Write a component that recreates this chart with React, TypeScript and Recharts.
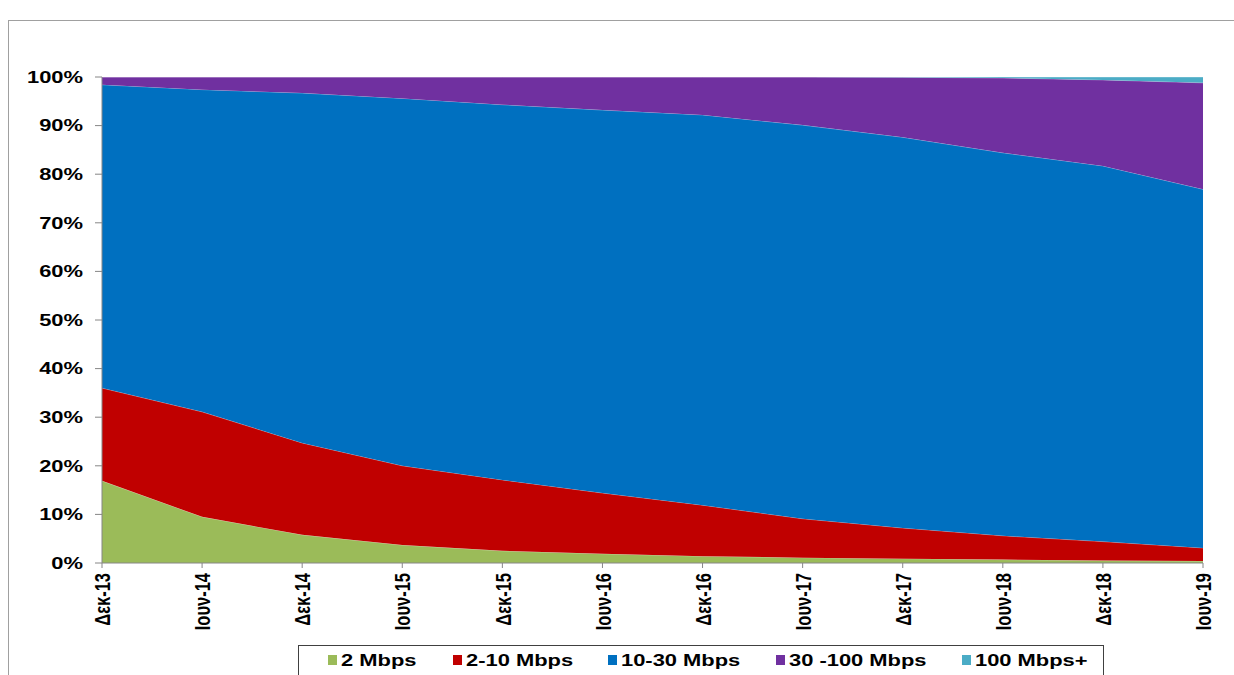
import React from 'react';
import { AreaChart, Area, XAxis, YAxis } from 'recharts';

const months = ['Δεκ-13', 'Ιουν-14', 'Δεκ-14', 'Ιουν-15', 'Δεκ-15', 'Ιουν-16', 'Δεκ-16', 'Ιουν-17', 'Δεκ-17', 'Ιουν-18', 'Δεκ-18', 'Ιουν-19'];
const upTo2 = [16.9, 9.5, 5.8, 3.7, 2.5, 1.9, 1.4, 1.1, 0.9, 0.7, 0.5, 0.4];
const from2to10 = [19.1, 21.6, 18.9, 16.3, 14.6, 12.5, 10.5, 8.0, 6.3, 4.9, 3.9, 2.7];
const from10to30 = [62.4, 66.3, 72.0, 75.6, 77.2, 78.8, 80.3, 81.0, 80.4, 78.8, 77.3, 73.8];
const from30to100 = [1.6, 2.6, 3.3, 4.4, 5.7, 6.8, 7.8, 9.9, 12.35, 15.4, 17.7, 21.9];
const over100 = [0, 0, 0, 0, 0, 0, 0, 0, 0.05, 0.2, 0.6, 1.2];
const yTicks = [0, 10, 20, 30, 40, 50, 60, 70, 80, 90, 100];

const series = [
  { key: 's1', name: '2 Mbps', color: '#9BBB59', values: upTo2 },
  { key: 's2', name: '2-10 Mbps', color: '#C00000', values: from2to10 },
  { key: 's3', name: '10-30 Mbps', color: '#0070C0', values: from10to30 },
  { key: 's4', name: '30 -100 Mbps', color: '#7030A0', values: from30to100 },
  { key: 's5', name: '100 Mbps+', color: '#4BACC6', values: over100 },
];

const data = months.map((m, i) => {
  const row: any = { m };
  series.forEach((s) => { row[s.key] = s.values[i]; });
  return row;
});

const FONT = '"Liberation Sans", Arial, sans-serif';
const STRETCH = 1.37;

const YTick = ({ x, y, payload }: any) => (
  <text
    transform={`translate(${x},${y}) scale(${STRETCH},1)`}
    textAnchor="end"
    dy="0.36em"
    fontFamily={FONT}
    fontWeight="bold"
    fontSize={16}
    fill="#000"
  >
    {`${payload.value}%`}
  </text>
);

const XTick = ({ x, y, payload }: any) => (
  <g transform={`translate(${x},${y})`}>
    <text
      transform={`rotate(-90) scale(1,${STRETCH})`}
      textAnchor="end"
      dy="0.36em"
      fontFamily={FONT}
      fontWeight="bold"
      fontSize={16.5}
      fill="#000"
    >
      {payload.value}
    </text>
  </g>
);

// legend item positions
const legendX = [30, 155, 310, 478, 664];

export default function App() {
  return (
    <div style={{ position: 'fixed', left: 0, top: 0, width: 1234, height: 675, overflow: 'hidden', background: '#fff' }}>
      <div style={{ position: 'absolute', left: 8, top: 20, width: 1300, height: 700, border: '1px solid #a0a0a0' }} />
      <div style={{ position: 'absolute', left: 0, top: 0 }}>
        <AreaChart width={1234} height={675} data={data} margin={{ top: 77, right: 31, left: 22, bottom: 22 }}>
          <XAxis
            dataKey="m"
            interval={0}
            height={90}
            tickSize={5}
            tickMargin={5}
            tick={<XTick />}
            axisLine={{ stroke: '#868686' }}
            tickLine={{ stroke: '#868686' }}
          />
          <YAxis
            domain={[0, 100]}
            ticks={yTicks}
            width={80}
            tickSize={7}
            tickMargin={12}
            tick={<YTick />}
            axisLine={{ stroke: '#868686' }}
            tickLine={{ stroke: '#868686' }}
          />
          {series.map((s) => (
            <Area
              key={s.key}
              type="linear"
              dataKey={s.key}
              name={s.name}
              stackId="1"
              fill={s.color}
              fillOpacity={1}
              stroke="rgba(255,255,255,0.35)"
              strokeWidth={1}
              isAnimationActive={false}
            />
          ))}
        </AreaChart>
      </div>
      <svg style={{ position: 'absolute', left: 298, top: 645 }} width={806} height={40}>
        <rect x={0.5} y={0.5} width={805} height={60} fill="#fff" stroke="#404040" strokeWidth={1} />
        {series.map((s, i) => (
          <g key={s.key} transform={`translate(${legendX[i]},0)`}>
            <rect x={0} y={10} width={9} height={10} fill={s.color} />
            <text
              transform={`translate(13,21) scale(${STRETCH},1)`}
              fontFamily={FONT}
              fontWeight="bold"
              fontSize={16}
              fill="#000"
            >
              {s.name}
            </text>
          </g>
        ))}
      </svg>
    </div>
  );
}
